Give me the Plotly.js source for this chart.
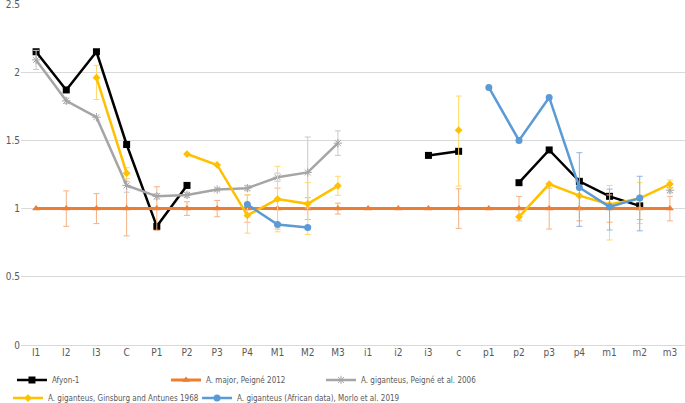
<!DOCTYPE html>
<html><head><meta charset="utf-8">
<script src="https://cdn.plot.ly/plotly-3.0.1.min.js"></script>
<style>html,body{margin:0;padding:0;background:#fff}#chart{width:685px;height:403px}</style>
</head><body><div id="chart"></div>
<script>
const categories = ["I1","I2","I3","C","P1","P2","P3","P4","M1","M2","M3","i1","i2","i3","c","p1","p2","p3","p4","m1","m2","m3"];

const afyon = [2.15,1.87,2.15,1.47,0.87,1.17,null,null,null,null,null,null,null,1.39,1.42,null,1.19,1.43,1.20,1.09,1.02,null];

const amajor = [1,1,1,1,1,1,1,1,1,1,1,1,1,1,1,1,1,1,1,1,1,1];
const amajorErr = [null,0.13,0.11,0.2,0.16,0.05,0.06,0.1,0.15,0.08,0.04,null,null,null,0.145,null,0.09,0.15,0.09,0.1,0.08,0.09];

const peigne2006 = [2.09,1.79,1.67,1.17,1.09,1.10,1.14,1.15,1.23,1.265,1.48,null,null,null,null,null,null,null,null,null,null,1.135];
const peigne2006Err = [0.07,0.02,null,0.05,0.02,0.02,0.01,0.02,0.03,0.26,0.09,null,null,null,null,null,null,null,null,null,null,0.02];

const ginsburg = [null,null,1.96,1.26,null,1.40,1.32,0.95,1.07,1.035,1.167,null,null,null,1.575,null,0.94,1.18,1.095,1.03,1.075,1.18];
const ginsburgErrPlus = [null,null,0.09,0.04,null,null,null,0.15,0.24,0.155,0.07,null,null,null,0.25,null,null,null,null,0.14,0.115,0.03];
const ginsburgErrMinus = [null,null,0.16,0.04,null,null,null,0.13,0.24,0.225,0.07,null,null,null,0.41,null,null,null,null,0.26,0.185,0.03];

const morlo = [null,null,null,null,null,null,null,1.03,0.884,0.862,null,null,null,null,null,1.888,1.50,1.815,1.155,1.013,1.077,null];
const morloErrPlus = [null,null,null,null,null,null,null,null,null,null,null,null,null,null,null,null,null,null,0.255,0.13,0.16,null];
const morloErrMinus = [null,null,null,null,null,null,null,null,null,null,null,null,null,null,null,null,null,null,0.285,0.17,0.24,null];

const nan = a => a.map(v => v === null ? NaN : v);

function errBar(plus, minus, color){
  return {type:'data', symmetric:false, array:nan(plus), arrayminus:nan(minus||plus), color:color, thickness:1, width:3, visible:true};
}

const traces = [
  {name:'Afyon-1', x:categories, y:afyon, mode:'lines+markers', connectgaps:false, legend:'legend',
   line:{color:'#000000', width:2.5}, marker:{symbol:'square', size:7, color:'#000000'}},
  {name:'A. major, Peigné 2012', x:categories, y:amajor, mode:'lines+markers', legend:'legend2',
   line:{color:'#ED7D31', width:3}, marker:{symbol:'triangle-up', size:7, color:'#ED7D31'},
   error_y:errBar(amajorErr, amajorErr, '#F4B183')},
  {name:'A. giganteus, Peigné et al. 2006', x:categories, y:peigne2006, mode:'lines+markers', connectgaps:false, legend:'legend3',
   line:{color:'#A5A5A5', width:2.5}, marker:{symbol:'asterisk-open', size:7, color:'#A5A5A5', line:{color:'#A5A5A5', width:1}},
   error_y:errBar(peigne2006Err, peigne2006Err, '#C9C9C9')},
  {name:'A. giganteus, Ginsburg and Antunes 1968', x:categories, y:ginsburg, mode:'lines+markers', connectgaps:false, legend:'legend4',
   line:{color:'#FFC000', width:2.5}, marker:{symbol:'diamond', size:6, color:'#FFC000'},
   error_y:errBar(ginsburgErrPlus, ginsburgErrMinus, '#FFD966')},
  {name:'A. giganteus (African data), Morlo et al. 2019', x:categories, y:morlo, mode:'lines+markers', connectgaps:false, legend:'legend5',
   line:{color:'#5B9BD5', width:2.5}, marker:{symbol:'circle', size:7, color:'#5B9BD5'},
   error_y:errBar(morloErrPlus, morloErrMinus, '#8EB4E3')}
];

const legendBase = {orientation:'h', xanchor:'left', yanchor:'top',
  font:{size:8, color:'#595959'}, itemwidth:30, tracegroupgap:0, traceorder:'normal', bgcolor:'rgba(0,0,0,0)'};
const lg = (x, y) => Object.assign({}, legendBase, {x:x, y:y});

const layout = {
  width:685, height:403,
  margin:{l:21, r:0, t:4, b:58, autoexpand:false},
  paper_bgcolor:'#fff', plot_bgcolor:'#fff',
  font:{family:'Liberation Sans Narrow, DejaVu Sans Condensed, Arial, sans-serif', size:10, color:'#595959'},
  showlegend:true,
  xaxis:{type:'category', categoryorder:'array', categoryarray:categories, range:[-0.5,21.5],
    showgrid:false, showline:false, zeroline:false, ticks:'', tickfont:{size:10, color:'#595959'}, fixedrange:true},
  yaxis:{range:[0,2.5], dtick:0.5, tickformat:'', showgrid:true, gridcolor:'#D9D9D9', gridwidth:1, zeroline:true, zerolinecolor:'#D9D9D9',
    showline:false, ticks:'', ticklabeloverflow:'allow', tickfont:{size:10, color:'#595959'}, fixedrange:true},
  legend: lg(-0.0136, -0.060),
  legend2: lg(0.2184, -0.060),
  legend3: lg(0.4518, -0.060),
  legend4: lg(-0.0196, -0.113),
  legend5: lg(0.2651, -0.113)
};

Plotly.newPlot('chart', traces, layout, {displayModeBar:false, staticPlot:true});
</script></body></html>
